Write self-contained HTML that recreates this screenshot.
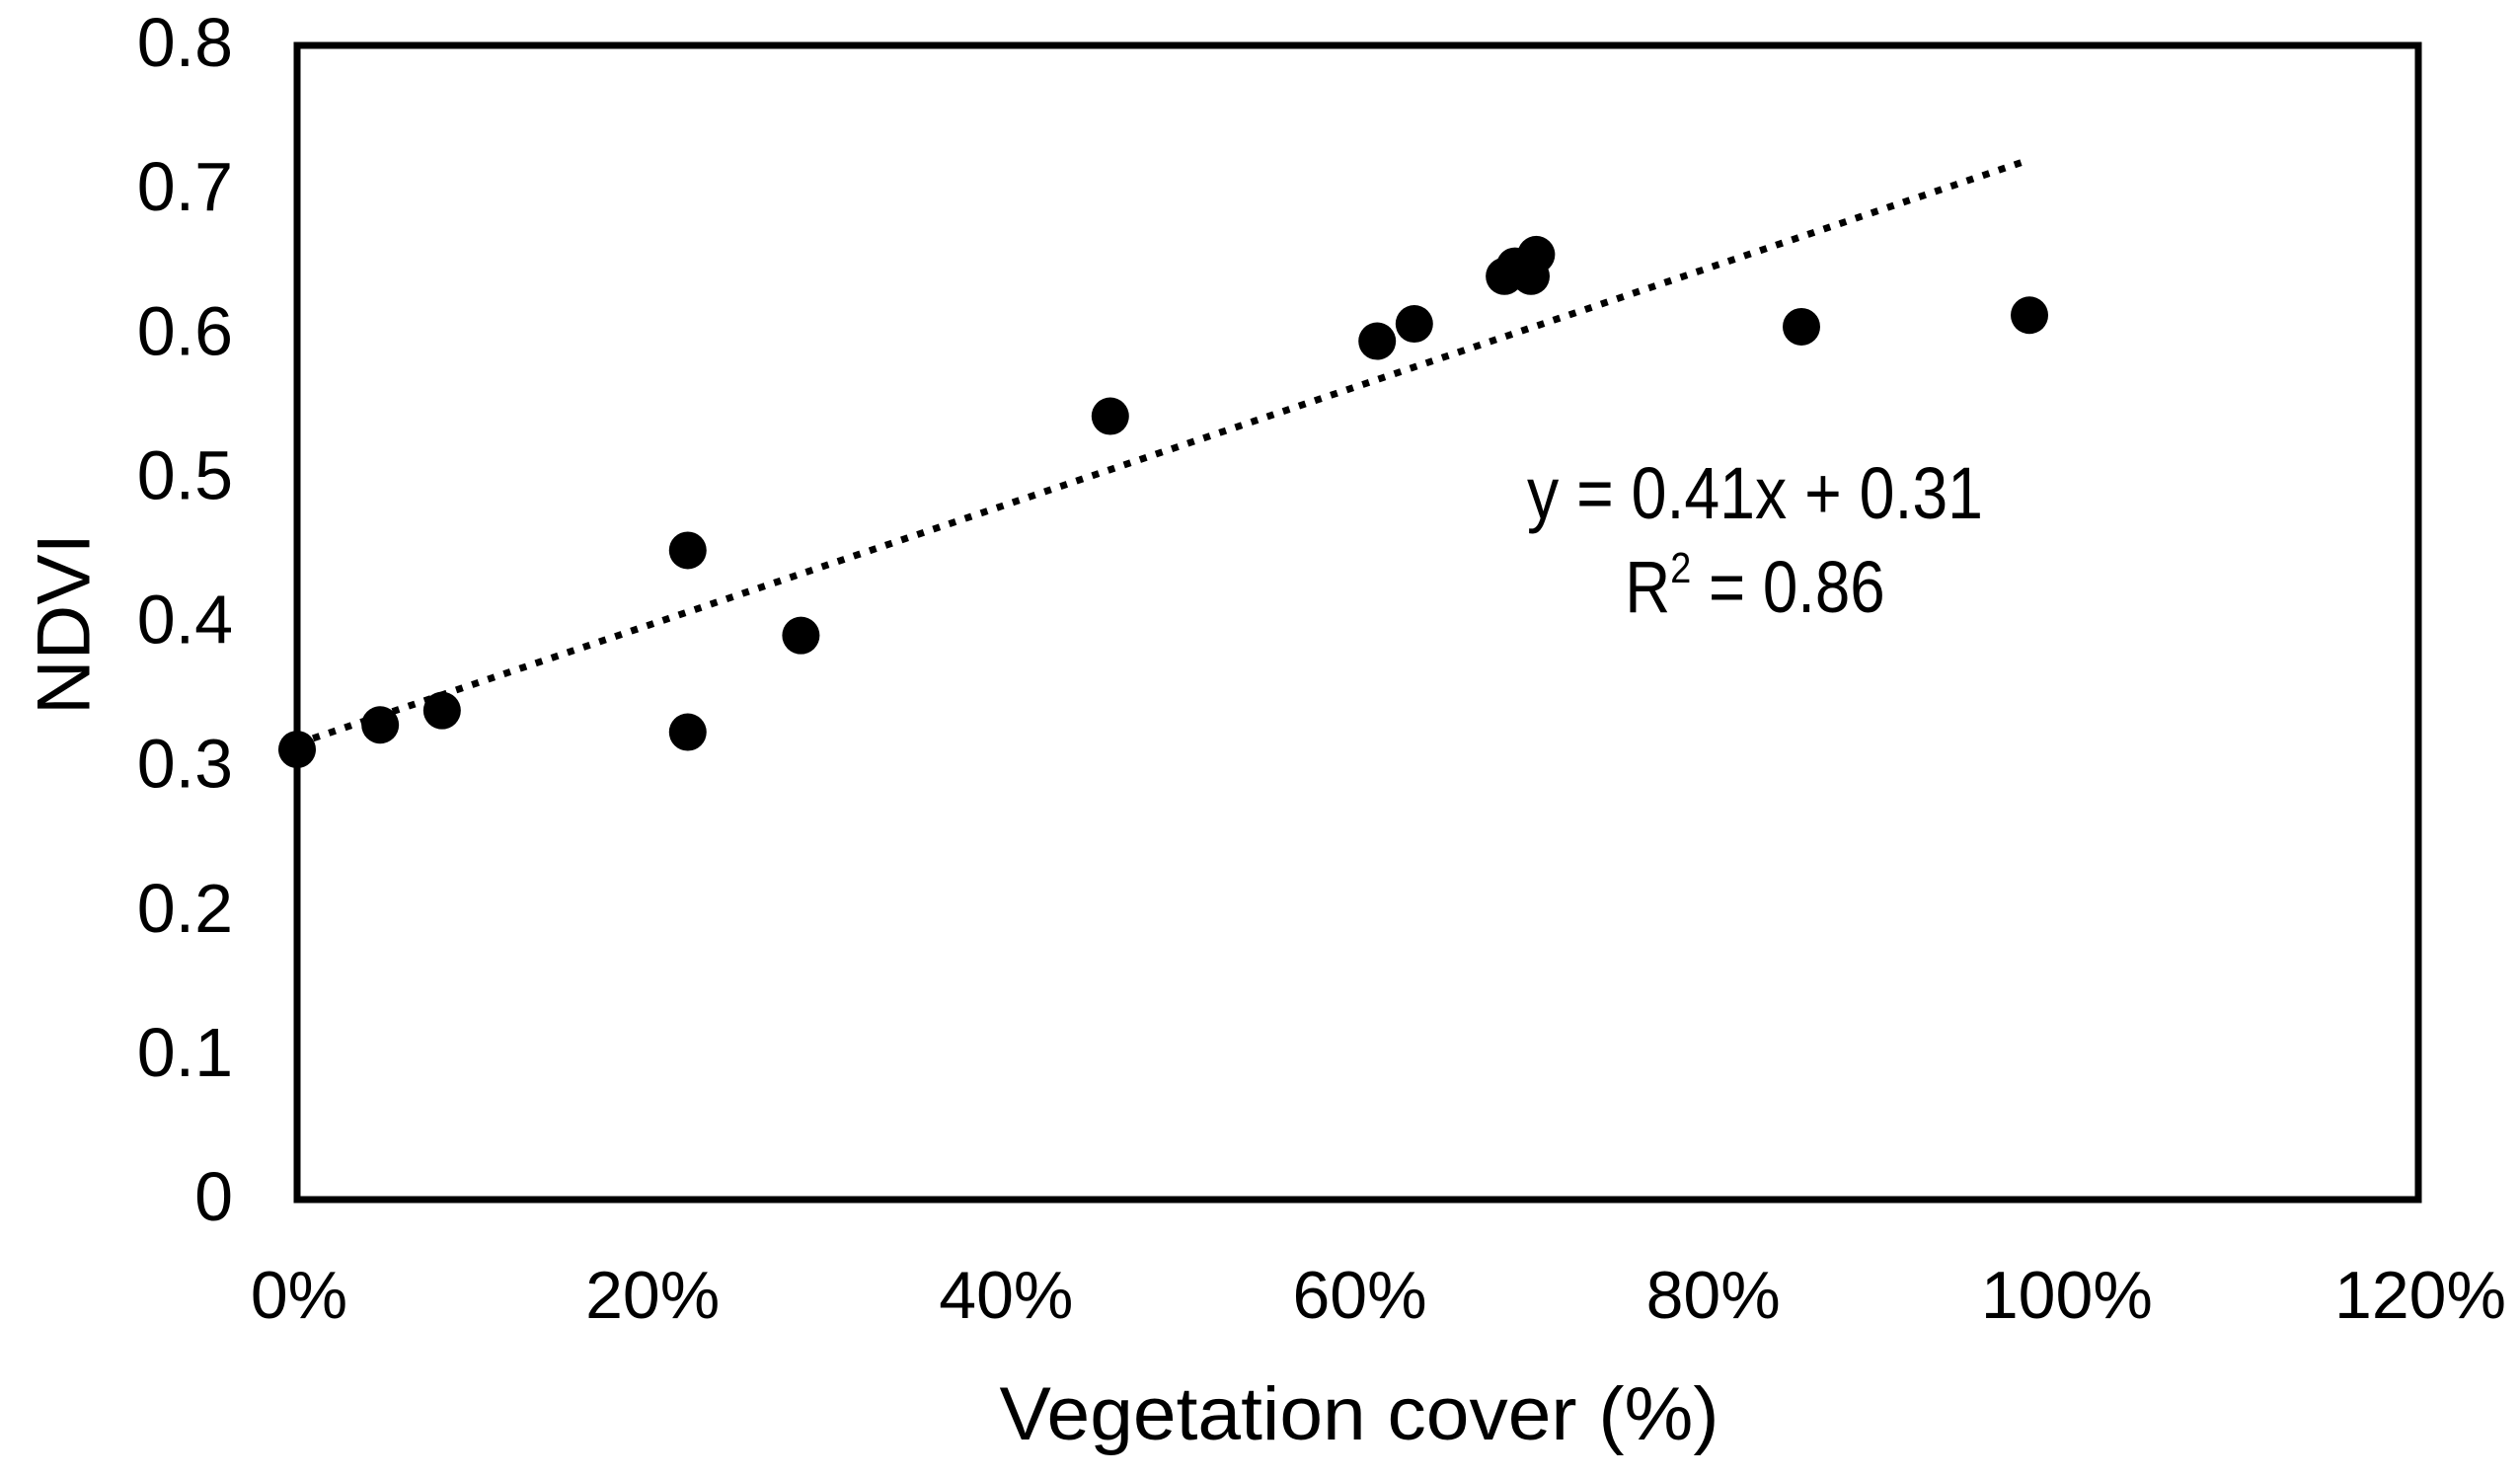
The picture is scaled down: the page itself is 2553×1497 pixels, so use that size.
<!DOCTYPE html>
<html><head><meta charset="utf-8"><style>
html,body{margin:0;padding:0;background:#fff}
svg{display:block}
text{font-family:"Liberation Sans",Arial,sans-serif;fill:#000}
</style></head><body>
<svg id="chart" width="2553" height="1497" viewBox="0 0 2553 1497" xmlns="http://www.w3.org/2000/svg">
<rect x="0" y="0" width="2553" height="1497" fill="#fff"/>
<g id="marks"></g>
<rect x="301" y="46" width="2149" height="1169" fill="none" stroke="#000" stroke-width="7"/>
<g id="ticks"></g>
<text x="65" y="632" font-size="76" text-anchor="middle" dominant-baseline="central" transform="rotate(-90 65 632)" textLength="184" lengthAdjust="spacingAndGlyphs">NDVI</text>
<text x="1377" y="1458" font-size="76" text-anchor="middle" textLength="729" lengthAdjust="spacingAndGlyphs">Vegetation cover (%)</text>
<text x="1778" y="525" font-size="74" text-anchor="middle" textLength="462" lengthAdjust="spacingAndGlyphs">y = 0.41x + 0.31</text>
<g transform="translate(1778 0) scale(0.86 1) translate(-1778 0)">
<text x="1778" y="620" font-size="74" text-anchor="middle">R<tspan font-size="44" dy="-30">2</tspan><tspan dy="30"> = 0.86</tspan></text>
</g>
</svg>
<script>
const xVals = [0.0, 0.047, 0.082, 0.221, 0.221, 0.285, 0.46, 0.611, 0.632, 0.683, 0.689, 0.698, 0.701, 0.851, 0.98];
const yVals = [0.312, 0.329, 0.339, 0.450, 0.324, 0.391, 0.543, 0.595, 0.607, 0.640, 0.647, 0.640, 0.655, 0.605, 0.613];
const yTicks = [0, 0.1, 0.2, 0.3, 0.4, 0.5, 0.6, 0.7, 0.8];
const yTickLabels = ["0", "0.1", "0.2", "0.3", "0.4", "0.5", "0.6", "0.7", "0.8"];
const xTicks = [0, 0.2, 0.4, 0.6, 0.8, 1.0, 1.2];
const xTickLabels = ["0%", "20%", "40%", "60%", "80%", "100%", "120%"];
const trendSlope = 0.413;
const trendIntercept = 0.316;
const trendRange = [0, 0.98];

const NS = "http://www.w3.org/2000/svg";
const L = 301, R = 2450, T = 46, B = 1215;
function sx(v){ return L + (v - 0) / 1.2 * (R - L); }
function sy(v){ return B - (v - 0) / 0.8 * (B - T); }

const marks = document.getElementById('marks');
const ticks = document.getElementById('ticks');

yTicks.forEach((v, i) => {
  const t = document.createElementNS(NS, 'text');
  
  
  t.setAttribute('x', 236);
  t.setAttribute('y', sy(v) - 3);
  t.setAttribute('font-size', '70');
  t.setAttribute('text-anchor', 'end');
  t.setAttribute('dominant-baseline', 'central');
  t.textContent = yTickLabels[i];
  ticks.appendChild(t);
});
xTicks.forEach((v, i) => {
  const t = document.createElementNS(NS, 'text');
  
  
  t.setAttribute('x', sx(v) + 2);
  t.setAttribute('y', 1312);
  t.setAttribute('font-size', '68');
  t.setAttribute('text-anchor', 'middle');
  t.setAttribute('dominant-baseline', 'central');
  t.textContent = xTickLabels[i];
  ticks.appendChild(t);
});

const line = document.createElementNS(NS, 'line');


line.setAttribute('x1', sx(trendRange[0]));
line.setAttribute('y1', sy(trendIntercept + trendSlope * trendRange[0]));
line.setAttribute('x2', sx(trendRange[1]));
line.setAttribute('y2', sy(trendIntercept + trendSlope * trendRange[1]));
line.setAttribute('stroke', '#000');
line.setAttribute('stroke-width', '7');
line.setAttribute('stroke-dasharray', '7 10');
marks.appendChild(line);

xVals.forEach((xv, i) => {
  const c = document.createElementNS(NS, 'circle');
  
  
  c.setAttribute('cx', sx(xv));
  c.setAttribute('cy', sy(yVals[i]));
  c.setAttribute('r', 19);
  c.setAttribute('fill', '#000');
  marks.appendChild(c);
});
</script>
</body></html>
